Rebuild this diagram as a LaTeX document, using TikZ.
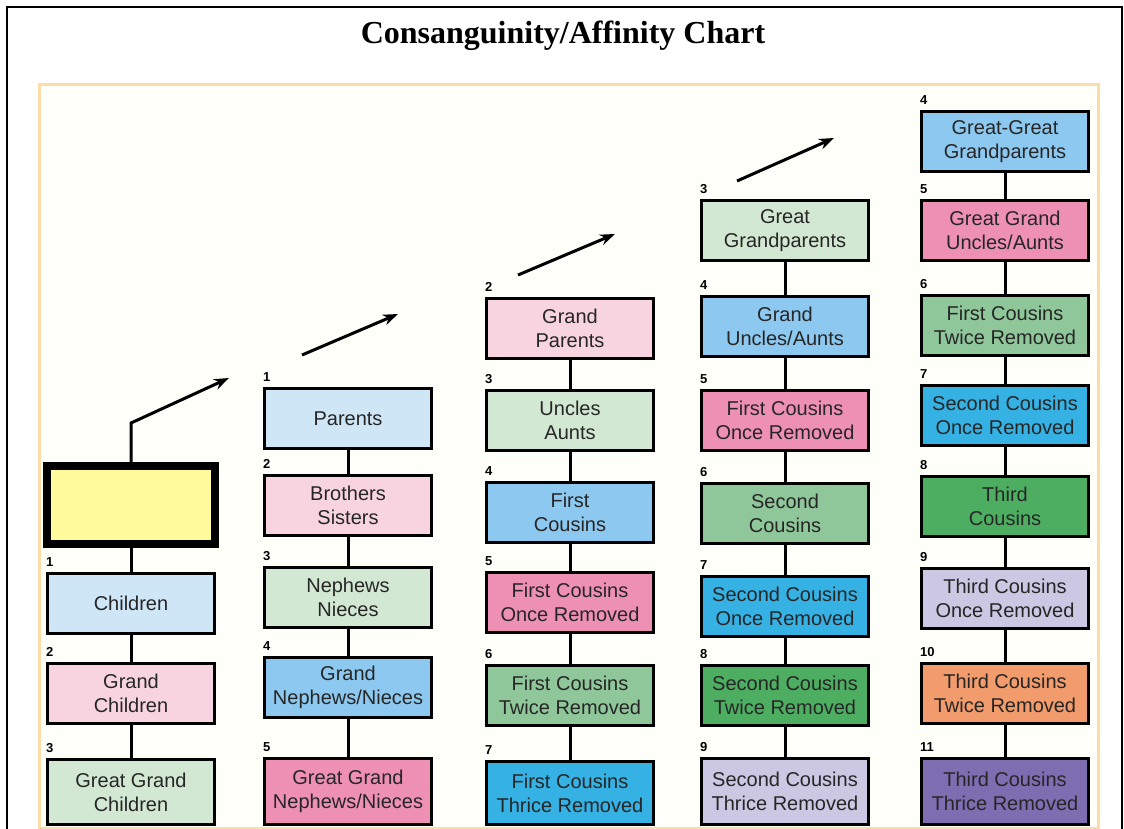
\documentclass[tikz,border=0pt]{standalone}
\usepackage{fontspec}
\setmainfont{Liberation Serif}
\newfontfamily\boxfont{Liberation Sans}
\usetikzlibrary{arrows.meta}
\definecolor{cream}{HTML}{FFFFFA}
\definecolor{edge}{HTML}{FCDDA8}
\definecolor{selfyellow}{HTML}{FFFB9C}
\definecolor{lblue}{HTML}{CFE6F7}
\definecolor{lpink}{HTML}{F7D4DF}
\definecolor{lgreen}{HTML}{D2E8D2}
\definecolor{mblue}{HTML}{8CC8EF}
\definecolor{mpink}{HTML}{EE90B4}
\definecolor{mgreen}{HTML}{8FC79B}
\definecolor{cyanblue}{HTML}{35B1E4}
\definecolor{dgreen}{HTML}{4DAE62}
\definecolor{lavender}{HTML}{CCC7E2}
\definecolor{orange}{HTML}{F29B6C}
\definecolor{purple}{HTML}{7F6DB2}

\begin{document}
\begin{tikzpicture}[x=1pt,y=-1pt,
  box/.style={draw=black,line width=3pt,minimum width=167,minimum height=60,inner sep=0pt,align=center,
    font=\boxfont\fontsize{20}{24}\selectfont,text=black!85},
  lastbox/.style={box,minimum height=66},
  num/.style={anchor=south west,inner sep=0pt,font=\boxfont\bfseries\fontsize{13}{13}\selectfont},
  link/.style={line width=3pt},
  arr/.style={line width=3pt,-{Stealth[length=15pt,width=11pt]}}]
\useasboundingbox (0,0) rectangle (1124,829);
\fill [white] (0,0) rectangle (1124,829);
\draw [line width=2.5pt] (7,829) -- (7,7) -- (1122,7) -- (1122,829);
\node [font=\bfseries\fontsize{32}{38}\selectfont,anchor=base] (title) at (563,44) {Consanguinity/Affinity Chart};
\fill [cream] (38,83) rectangle (1100,829);
\draw [edge,line width=3pt] (39.5,829) -- (39.5,84.5) -- (1098.5,84.5) -- (1098.5,829);
\draw [edge,line width=2pt] (38,828) -- (1100,828);

\node [draw=black,line width=8pt,fill=selfyellow,minimum width=168,minimum height=78] (self) at (131,505) {};
\node [box,fill=lblue] (children) at (131,603.5) {Children};
\node [box,fill=lpink] (grandchildren) at (131,693.5) {Grand\\Children};
\node [box,fill=lgreen,minimum height=65] (greatgrandchildren) at (131,792) {Great Grand\\Children};
\node [num] (n-children) at ([yshift=5pt]children.north west) {1};
\node [num] (n-grandchildren) at ([yshift=5pt]grandchildren.north west) {2};
\node [num] (n-greatgrandchildren) at ([yshift=5pt]greatgrandchildren.north west) {3};

\node [box,fill=lblue] (parents) at (348,418.5) {Parents};
\node [box,fill=lpink] (siblings) at (348,505.5) {Brothers\\Sisters};
\node [box,fill=lgreen] (nephews) at (348,597.5) {Nephews\\Nieces};
\node [box,fill=mblue] (grandnephews) at (348,687.5) {Grand\\Nephews/Nieces};
\node [lastbox,fill=mpink] (greatgrandnephews) at (348,791.5) {Great Grand\\Nephews/Nieces};
\node [num] (n-parents) at ([yshift=5pt]parents.north west) {1};
\node [num] (n-siblings) at ([yshift=5pt]siblings.north west) {2};
\node [num] (n-nephews) at ([yshift=5pt]nephews.north west) {3};
\node [num] (n-grandnephews) at ([yshift=5pt]grandnephews.north west) {4};
\node [num] (n-greatgrandnephews) at ([yshift=5pt]greatgrandnephews.north west) {5};

\node [box,fill=lpink] (grandparents) at (570,328.5) {Grand\\Parents};
\node [box,fill=lgreen] (uncles) at (570,420.5) {Uncles\\Aunts};
\node [box,fill=mblue] (cousins) at (570,512.5) {First\\Cousins};
\node [box,fill=mpink] (cousinsonce) at (570,602.5) {First Cousins\\Once Removed};
\node [box,fill=mgreen] (cousinstwice) at (570,695.5) {First Cousins\\Twice Removed};
\node [lastbox,fill=cyanblue,minimum height=63] (cousinsthrice) at (570,793) {First Cousins\\Thrice Removed};
\node [num] (n-grandparents) at ([yshift=5pt]grandparents.north west) {2};
\node [num] (n-uncles) at ([yshift=5pt]uncles.north west) {3};
\node [num] (n-cousins) at ([yshift=5pt]cousins.north west) {4};
\node [num] (n-cousinsonce) at ([yshift=5pt]cousinsonce.north west) {5};
\node [num] (n-cousinstwice) at ([yshift=5pt]cousinstwice.north west) {6};
\node [num] (n-cousinsthrice) at ([yshift=5pt]cousinsthrice.north west) {7};

\node [box,fill=lgreen] (greatgrandparents) at (785,230.5) {Great\\Grandparents};
\node [box,fill=mblue] (granduncles) at (785,326.5) {Grand\\Uncles/Aunts};
\node [box,fill=mpink] (ggcousinsonce) at (785,420.5) {First Cousins\\Once Removed};
\node [box,fill=mgreen] (second) at (785,513.5) {Second\\Cousins};
\node [box,fill=cyanblue] (secondonce) at (785,606.5) {Second Cousins\\Once Removed};
\node [box,fill=dgreen] (secondtwice) at (785,695.5) {Second Cousins\\Twice Removed};
\node [lastbox,fill=lavender] (secondthrice) at (785,791.5) {Second Cousins\\Thrice Removed};
\node [num] (n-greatgrandparents) at ([yshift=5pt]greatgrandparents.north west) {3};
\node [num] (n-granduncles) at ([yshift=5pt]granduncles.north west) {4};
\node [num] (n-ggcousinsonce) at ([yshift=5pt]ggcousinsonce.north west) {5};
\node [num] (n-second) at ([yshift=5pt]second.north west) {6};
\node [num] (n-secondonce) at ([yshift=5pt]secondonce.north west) {7};
\node [num] (n-secondtwice) at ([yshift=5pt]secondtwice.north west) {8};
\node [num] (n-secondthrice) at ([yshift=5pt]secondthrice.north west) {9};

\node [box,fill=mblue] (gggparents) at (1005,141.5) {Great-Great\\Grandparents};
\node [box,fill=mpink] (greatgranduncles) at (1005,230.5) {Great Grand\\Uncles/Aunts};
\node [box,fill=mgreen] (gcousinstwice) at (1005,325.5) {First Cousins\\Twice Removed};
\node [box,fill=cyanblue] (gsecondonce) at (1005,415.5) {Second Cousins\\Once Removed};
\node [box,fill=dgreen] (third) at (1005,506.5) {Third\\Cousins};
\node [box,fill=lavender] (thirdonce) at (1005,598.5) {Third Cousins\\Once Removed};
\node [box,fill=orange] (thirdtwice) at (1005,693.5) {Third Cousins\\Twice Removed};
\node [lastbox,fill=purple] (thirdthrice) at (1005,791.5) {Third Cousins\\Thrice Removed};
\node [num] (n-gggparents) at ([yshift=5pt]gggparents.north west) {4};
\node [num] (n-greatgranduncles) at ([yshift=5pt]greatgranduncles.north west) {5};
\node [num] (n-gcousinstwice) at ([yshift=5pt]gcousinstwice.north west) {6};
\node [num] (n-gsecondonce) at ([yshift=5pt]gsecondonce.north west) {7};
\node [num] (n-third) at ([yshift=5pt]third.north west) {8};
\node [num] (n-thirdonce) at ([yshift=5pt]thirdonce.north west) {9};
\node [num] (n-thirdtwice) at ([yshift=5pt]thirdtwice.north west) {10};
\node [num] (n-thirdthrice) at ([yshift=5pt]thirdthrice.north west) {11};

\draw [link] (self) -- (children);
\draw [link] (children) -- (grandchildren);
\draw [link] (grandchildren) -- (greatgrandchildren);
\draw [link] (parents) -- (siblings);
\draw [link] (siblings) -- (nephews);
\draw [link] (nephews) -- (grandnephews);
\draw [link] (grandnephews) -- (greatgrandnephews);
\draw [link] (grandparents) -- (uncles);
\draw [link] (uncles) -- (cousins);
\draw [link] (cousins) -- (cousinsonce);
\draw [link] (cousinsonce) -- (cousinstwice);
\draw [link] (cousinstwice) -- (cousinsthrice);
\draw [link] (greatgrandparents) -- (granduncles);
\draw [link] (granduncles) -- (ggcousinsonce);
\draw [link] (ggcousinsonce) -- (second);
\draw [link] (second) -- (secondonce);
\draw [link] (secondonce) -- (secondtwice);
\draw [link] (secondtwice) -- (secondthrice);
\draw [link] (gggparents) -- (greatgranduncles);
\draw [link] (greatgranduncles) -- (gcousinstwice);
\draw [link] (gcousinstwice) -- (gsecondonce);
\draw [link] (gsecondonce) -- (third);
\draw [link] (third) -- (thirdonce);
\draw [link] (thirdonce) -- (thirdtwice);
\draw [link] (thirdtwice) -- (thirdthrice);

\coordinate (bend) at (131,423);
\coordinate (tip1) at (229,378);
\coordinate (tail2) at (302,355);
\coordinate (tip2) at (398,314);
\coordinate (tail3) at (518,275);
\coordinate (tip3) at (615,234);
\coordinate (tail4) at (737,181);
\coordinate (tip4) at (834,138);
\draw [arr] (self.north) -- (bend) -- (tip1);
\draw [arr] (tail2) -- (tip2);
\draw [arr] (tail3) -- (tip3);
\draw [arr] (tail4) -- (tip4);
\end{tikzpicture}
\end{document}
